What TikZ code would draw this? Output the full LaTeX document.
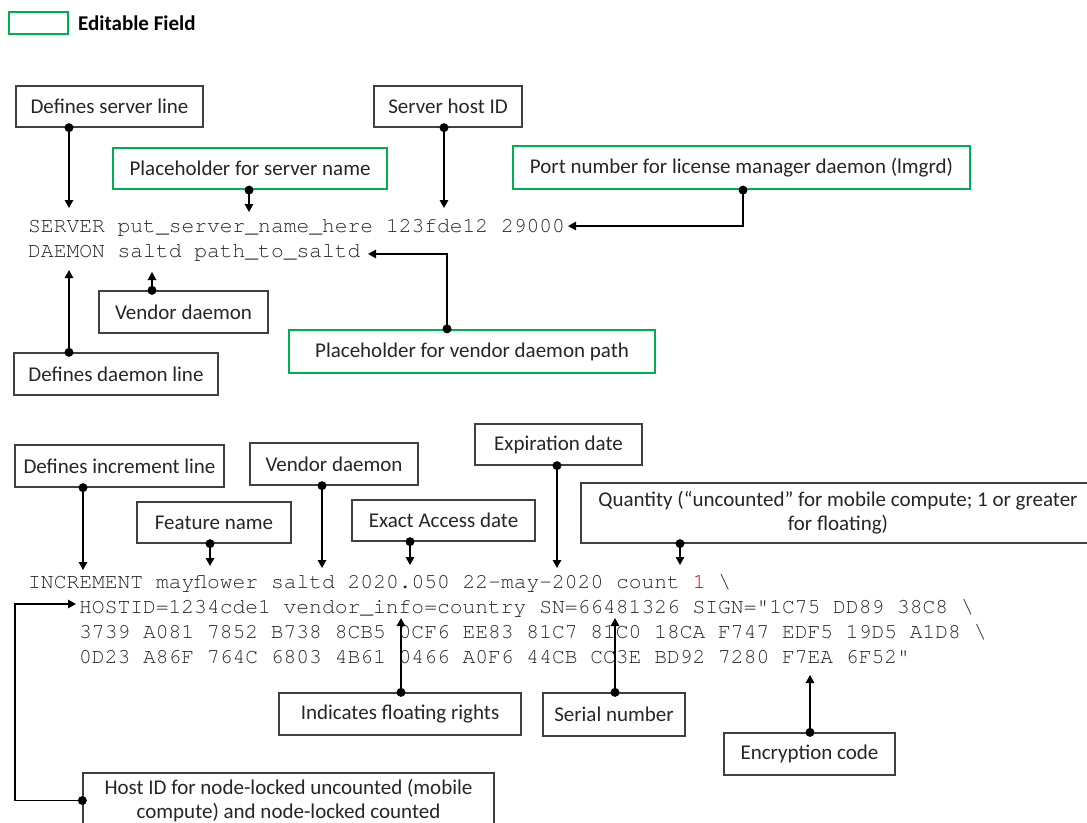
\documentclass[tikz,border=0pt]{standalone}
\usepackage{fontspec}
\setmonofont{TeX Gyre Cursor}
\newfontfamily\lblfont{Carlito}
\usetikzlibrary{arrows.meta}
\definecolor{editgreen}{HTML}{00B050}
\definecolor{boxline}{HTML}{404040}
\definecolor{codegray}{HTML}{262626}
\definecolor{txtcol}{HTML}{262626}
\definecolor{codered}{HTML}{C00000}
\newcommand\lbox[7][lbl]{%
  \node[#1, minimum width={#5-#3}, minimum height={#6-#4}] (#2) at ({(#3+#5)/2},{(#4+#6)/2}) {#7};}
\begin{document}
\begin{tikzpicture}[x=1pt,y=-1pt,
  lbl/.style={draw=boxline, line width=1.3pt, inner sep=0pt, align=center, text=txtcol,
              font=\lblfont\fontsize{21}{24}\selectfont},
  edit/.style={lbl, draw=editgreen, line width=2.2pt},
  code/.style={anchor=base west, inner sep=0pt, text=codegray,
               font=\ttfamily\fontsize{21.3}{25}\selectfont},
  conn/.style={line width=1.4pt, -{Triangle[width=8.5pt,length=8pt]}},
  startdot/.style={circle, fill, inner sep=0pt, minimum size=9pt}]
\useasboundingbox (0,0) rectangle (1087,822);
\clip (0,0) rectangle (1087,822);
\fill[white] (0,0) rectangle (1087,822);

% legend
\node[edit, minimum width=59pt, minimum height=22pt] (leg) at (38.5,23) {};
\node[anchor=west, inner sep=0pt, font=\lblfont\bfseries\fontsize{21}{24}\selectfont] (legt) at (78,23) {Editable Field};

% code lines
\node[code] (s1) at (28,232) {SERVER put\_server\_name\_here 123fde12 29000};
\node[code] (s2) at (28,257) {DAEMON saltd path\_to\_saltd};
\node[code] (l1) at (28,588) {INCREMENT mayflower saltd 2020.050 22-may-2020 count {\color{codered}1} \textbackslash};
\node[code] (l2) at (79,613.5) {HOSTID=1234cde1 vendor\_info=country SN=66481326 SIGN="1C75 DD89 38C8 \textbackslash};
\node[code] (l3) at (79,638.5) {3739 A081 7852 B738 8CB5 0CF6 EE83 81C7 81C0 18CA F747 EDF5 19D5 A1D8 \textbackslash};
\node[code] (l4) at (79,663) {0D23 A86F 764C 6803 4B61 0466 A0F6 44CB CC3E BD92 7280 F7EA 6F52"};

% label boxes
\lbox{dsl}{16}{86}{203}{127}{Defines server line}
\lbox{shid}{374}{86}{522}{127}{Server host ID}
\lbox[edit]{psn}{113}{148}{387}{189}{Placeholder for server name}
\lbox[edit]{port}{513}{146}{970}{189}{Port number for license manager daemon (lmgrd)}
\lbox{vd1}{99}{291}{268}{333}{Vendor daemon}
\lbox{ddl}{14}{353}{218}{395}{Defines daemon line}
\lbox[edit]{pvd}{289}{330}{655}{373}{Placeholder for vendor daemon path}

\lbox{dil}{15}{445}{224}{487}{Defines increment line}
\lbox{fn}{137}{502}{291}{543}{Feature name}
\lbox{vd2}{250}{443}{418}{485}{Vendor daemon}
\lbox{ead}{352}{500}{535}{541}{Exact Access date}
\lbox{exd}{475}{424}{642}{465}{Expiration date}
\lbox{qty}{581}{483}{1095}{543}{Quantity (“uncounted” for mobile compute; 1 or greater\\for floating)}
\lbox{ifr}{279}{693}{521}{735}{Indicates floating rights}
\lbox{sn}{543}{693}{685}{736}{Serial number}
\lbox{enc}{724}{733}{895}{775}{Encryption code}
\lbox{hid}{83}{773}{494}{828}{Host ID for node-locked uncounted (mobile\\compute) and node-locked counted}

% arrow targets
\coordinate (t1) at (69,208);
\coordinate (t2) at (444,208);
\coordinate (t3) at (249,212);
\coordinate (x4) at (743,0);
\coordinate (t4) at (568,226);
\coordinate (t5) at (152,272);
\coordinate (t6) at (69,270);
\coordinate (x7) at (447,0);
\coordinate (t7) at (368,254);
\coordinate (t8) at (83,570);
\coordinate (t9) at (210,566);
\coordinate (t10) at (322,568);
\coordinate (t11) at (410,565);
\coordinate (t12) at (557,568);
\coordinate (t13) at (680,565);
\coordinate (t14) at (401,618);
\coordinate (t15) at (615,618);
\coordinate (t16) at (810,675);
\coordinate (c17) at (15,800.5);
\coordinate (t17) at (76,604);

% connectors
\draw[conn] (dsl.south -| t1) node[startdot]{} -- (t1);
\draw[conn] (shid.south -| t2) node[startdot]{} -- (t2);
\draw[conn] (psn.south -| t3) node[startdot]{} -- (t3);
\draw[conn] (port.south -| x4) node[startdot]{} |- (t4);
\draw[conn] (vd1.north -| t5) node[startdot]{} -- (t5);
\draw[conn] (ddl.north -| t6) node[startdot]{} -- (t6);
\draw[conn] (pvd.north -| x7) node[startdot]{} |- (t7);
\draw[conn] (dil.south -| t8) node[startdot]{} -- (t8);
\draw[conn] (fn.south -| t9) node[startdot]{} -- (t9);
\draw[conn] (vd2.south -| t10) node[startdot]{} -- (t10);
\draw[conn] (ead.south -| t11) node[startdot]{} -- (t11);
\draw[conn] (exd.south -| t12) node[startdot]{} -- (t12);
\draw[conn] (qty.south -| t13) node[startdot]{} -- (t13);
\draw[conn] (ifr.north -| t14) node[startdot]{} -- (t14);
\draw[conn] (sn.north -| t15) node[startdot]{} -- (t15);
\draw[conn] (enc.north -| t16) node[startdot]{} -- (t16);
\draw[conn] (hid.west) node[startdot]{} -- (c17) |- (t17);
\end{tikzpicture}
\end{document}
